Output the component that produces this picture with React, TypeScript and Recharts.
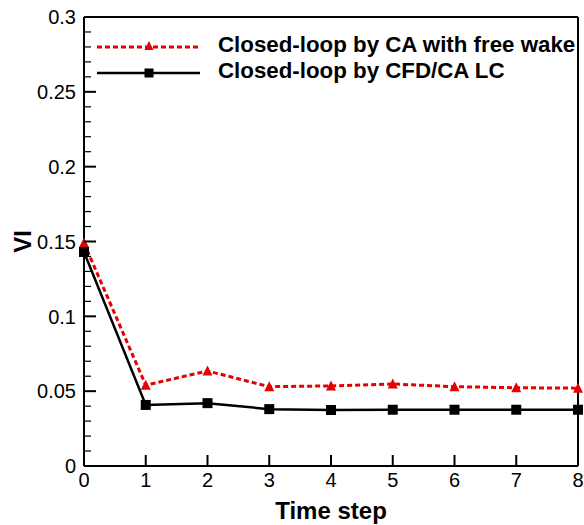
import { Legend, Line, LineChart, ReferenceLine, XAxis, YAxis } from 'recharts';

// VI history over the closed-loop time steps, two solver variants.
const STEPS = [0, 1, 2, 3, 4, 5, 6, 7, 8];
const CA_FREE_WAKE = [0.149, 0.054, 0.0635, 0.053, 0.0535, 0.0548, 0.053, 0.0523, 0.052];
const CFD_CA_LC = [0.143, 0.0408, 0.042, 0.038, 0.0374, 0.0376, 0.0376, 0.0376, 0.0376];

const X_TICKS = [0, 1, 2, 3, 4, 5, 6, 7, 8];
// minor ticks every 0.01, labelled every 0.05
const Y_TICKS = Array.from({ length: 31 }, (_, i) => i / 100);

const RED = '#e60000';
const INK = '#000';
const FONT = '"Liberation Sans", Arial, sans-serif';

const W = 584;
const H = 525;
const MARGIN = { top: 17, right: 6, bottom: 0, left: 0 };
const Y_AXIS_W = 84;
const X_AXIS_H = 59;
const PLOT_LEFT = MARGIN.left + Y_AXIS_W;
const PLOT_BOTTOM = H - MARGIN.bottom - X_AXIS_H;

const data = STEPS.map((t, i) => ({ t, free: CA_FREE_WAKE[i], lc: CFD_CA_LC[i] }));

function triangle(cx: number, cy: number, s: number) {
  const h = s * 0.9;
  return `${cx},${cy - h / 2 - 1} ${cx - s / 2},${cy + h / 2} ${cx + s / 2},${cy + h / 2}`;
}

const TriDot = (p: any) =>
  p.cx == null ? null : <polygon key={p.key} points={triangle(p.cx, p.cy, 10)} fill={RED} />;

const SquareDot = (p: any) =>
  p.cx == null ? null : <rect key={p.key} x={p.cx - 5} y={p.cy - 5} width={10} height={10} fill={INK} />;

function isMajor(v: number) {
  return Math.abs(v * 20 - Math.round(v * 20)) < 1e-6;
}

const YTick = ({ x, y, payload }: any) => {
  const v = payload.value as number;
  const major = isMajor(v);
  return (
    <g>
      <line x1={PLOT_LEFT} x2={PLOT_LEFT + (major ? 12 : 7)} y1={y} y2={y} stroke={INK} strokeWidth={major ? 2 : 1.2} />
      {major && (
        <text x={x} y={y} dy="0.36em" textAnchor="end" fontSize={20} fontFamily={FONT} fill={INK}>
          {String(+v.toFixed(2))}
        </text>
      )}
    </g>
  );
};

const XTick = ({ x, y, payload }: any) => (
  <g>
    <line x1={x} x2={x} y1={PLOT_BOTTOM} y2={PLOT_BOTTOM - 11} stroke={INK} strokeWidth={2} />
    <text x={x} y={y} dy="0.72em" textAnchor="middle" fontSize={20} fontFamily={FONT} fill={INK}>
      {payload.value}
    </text>
  </g>
);

const LEGEND_ROWS = [
  { label: 'Closed-loop by CA with free wake', color: RED, dash: '5 3', width: 3, marker: 'tri', y: 47 },
  { label: 'Closed-loop by CFD/CA LC', color: INK, dash: undefined, width: 2.5, marker: 'sq', y: 73 },
];

const LegendBox = () => (
  <svg width={W} height={90} style={{ display: 'block' }}>
    {LEGEND_ROWS.map((r) => (
      <g key={r.label}>
        <line x1={97} x2={200} y1={r.y} y2={r.y} stroke={r.color} strokeWidth={r.width} strokeDasharray={r.dash} />
        {r.marker === 'tri' ? (
          <polygon points={triangle(149, r.y - 1, 9)} fill={r.color} />
        ) : (
          <rect x={144.5} y={r.y - 4.5} width={9} height={9} fill={r.color} />
        )}
        <text x={218} y={r.y + 5} fontSize={22.3} fontWeight="bold" fontFamily={FONT} fill={INK}>
          {r.label}
        </text>
      </g>
    ))}
  </svg>
);

export default function App() {
  return (
    <div style={{ position: 'absolute', left: 0, top: 0, background: '#fff' }}>
      <LineChart width={W} height={H} data={data} margin={MARGIN}>
        <XAxis
          dataKey="t"
          type="number"
          domain={[0, 8]}
          ticks={X_TICKS}
          interval={0}
          height={X_AXIS_H}
          tickSize={0}
          tickMargin={7}
          tick={<XTick />}
          axisLine={{ stroke: INK, strokeWidth: 2 }}
          label={{
            value: 'Time step',
            position: 'insideBottom',
            offset: 6,
            style: { fontSize: 24, fontWeight: 'bold', fontFamily: FONT, fill: INK },
          }}
        />
        <YAxis
          type="number"
          domain={[0, 0.3]}
          ticks={Y_TICKS}
          interval={0}
          width={Y_AXIS_W}
          tickSize={0}
          tickMargin={8}
          tick={<YTick />}
          axisLine={{ stroke: INK, strokeWidth: 2 }}
          label={{
            value: 'VI',
            content: ({ viewBox }: any) => {
              const cy = viewBox.y + viewBox.height / 2;
              return (
                <text
                  transform={`translate(22, ${cy}) rotate(-90)`}
                  textAnchor="middle"
                  dy="0.36em"
                  fontSize={24}
                  fontWeight="bold"
                  fontFamily={FONT}
                  fill={INK}
                >
                  VI
                </text>
              );
            },
          }}
        />
        <ReferenceLine y={0.3} stroke={INK} strokeWidth={2} />
        <ReferenceLine x={8} stroke={INK} strokeWidth={2} />
        <Legend
          layout="horizontal"
          verticalAlign="middle"
          align="center"
          content={<LegendBox />}
          wrapperStyle={{ position: 'absolute', left: 0, top: 0, width: W }}
        />
        <Line
          dataKey="free"
          stroke={RED}
          strokeWidth={3}
          strokeDasharray="5 3"
          dot={TriDot}
          activeDot={false}
          isAnimationActive={false}
        />
        <Line
          dataKey="lc"
          stroke={INK}
          strokeWidth={2.5}
          dot={SquareDot}
          activeDot={false}
          isAnimationActive={false}
        />
      </LineChart>
    </div>
  );
}
